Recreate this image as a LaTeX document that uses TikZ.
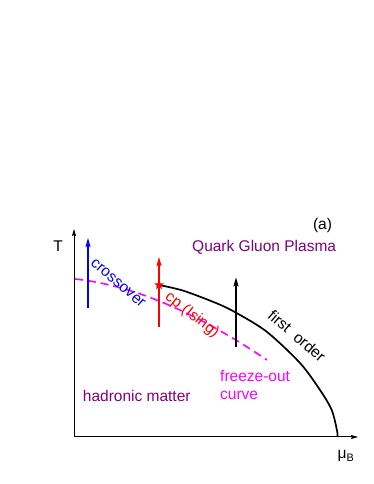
\documentclass[tikz,border=0pt]{standalone}
\usepackage{fontspec}
\setmainfont{Liberation Sans}
\usetikzlibrary{arrows.meta,shapes.geometric}
\definecolor{qgp}{HTML}{800080}
\definecolor{freeze}{HTML}{FF00FF}
\definecolor{xover}{HTML}{0000FF}
\definecolor{ising}{HTML}{FF0000}
\tikzset{
  lbl/.style={font=\fontsize{15.5}{18}\selectfont,inner sep=0pt},
  probe/.style={line width=1.6pt,-{Stealth[length=9pt,width=5pt,inset=1.5pt]}},
  axis/.style={line width=1pt,-{Stealth[length=7pt,width=4pt,inset=1pt]}}
}

\begin{document}
\begin{tikzpicture}[x=1pt,y=1pt]
        \useasboundingbox (-74,-47) rectangle (300,437);
        % axes
        \coordinate (O) at (0,0);
        \coordinate (Tend) at (0,208);
        \coordinate (muend) at (284,0);
        \draw[axis] (O)--(Tend);
        \draw[axis] (O)--(muend);
        \node[lbl] (Tlab) at (-16,191){T};
        \node[lbl] (mulab) at (272,-19){μ\textsubscript{B}};
        % freeze-out curve
        \coordinate (fostart) at (1,158);
        \coordinate (foend) at (193,77);
        \draw[freeze,line width=1.6pt,dash pattern=on 8pt off 5pt] (fostart) .. controls (65,151) and (129,120) .. (foend);
        % first order line
        \coordinate (cpos) at (85,152);
        \coordinate (tc) at (263.5,0);
        \draw[line width=1.7pt] plot[smooth] coordinates {(cpos) (109.3,146.3) (142.7,133.7) (162,124.3) (192.7,105.3) (226,74) (246,47) (257.7,27) (263.1,6) (tc)};
        % probes
        \coordinate (xlo) at (14,129);   \coordinate (xhi) at (14,199);
        \coordinate (ilo) at (85,110);   \coordinate (ihi) at (85,180);
        \coordinate (flo) at (162,90);   \coordinate (fhi) at (162,159.7);
        \draw[probe,xover] (xlo)--(xhi);
        \draw[probe,ising] (ilo)--(ihi);
        \draw[probe] (flo)--(fhi);
        % critical point
        \node[star,star points=5,star point ratio=2.3,fill=ising,inner sep=0pt,minimum size=10pt] (cp) at (cpos){};
        % labels
        \node[lbl] (panel) at (248.5,212){(a)};
        \node[lbl,text=qgp,anchor=base west] (qgplab) at (118,185.3){Quark Gluon Plasma};
        \node[lbl,text=qgp,anchor=base west] (hadlab) at (8.7,35.3){hadronic matter};
        \node[lbl,text=xover,rotate=-41] (xlab) at (44,154){crossover};
        \node[lbl,text=ising,rotate=-38] (ilab) at (118,122){cp (Ising)};
        \node[lbl,rotate=-40.5] (flab) at (223,101){first\ \ order};
        \node[lbl,text=freeze,anchor=base west] (folab) at (146,55.3){freeze-out};
        \node[lbl,text=freeze,anchor=base west] (folab2) at (146,37){curve};
\end{tikzpicture}
\end{document}
